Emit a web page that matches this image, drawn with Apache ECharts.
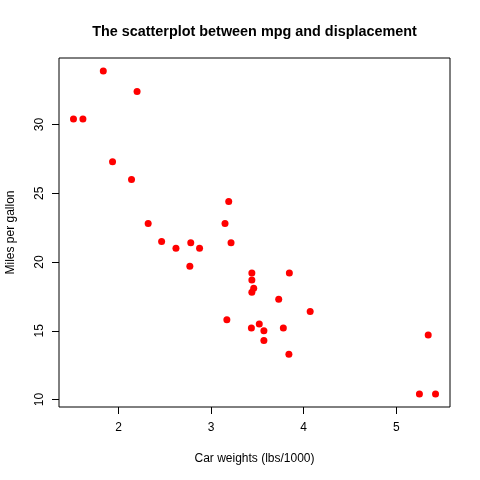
<!DOCTYPE html>
<html><head><meta charset="utf-8">
<script src="https://cdn.jsdelivr.net/npm/echarts@6/dist/echarts.min.js"></script>
<style>html,body{margin:0;padding:0;background:#fff}#c{width:480px;height:480px}</style>
</head><body><div id="c"></div>
<script>
const wt = [2.620,2.875,2.320,3.215,3.440,3.460,3.570,3.190,3.150,3.440,3.440,4.070,3.730,3.780,5.250,5.424,5.345,2.200,1.615,1.835,2.465,3.520,3.435,3.840,3.845,1.935,2.140,1.513,3.170,2.770,3.570,2.780];
const mpg = [21.0,21.0,22.8,21.4,18.7,18.1,14.3,24.4,22.8,19.2,17.8,16.4,17.3,15.2,10.4,10.4,14.7,32.4,30.4,33.9,21.5,15.5,15.2,13.3,19.2,27.3,26.0,30.4,15.8,19.7,15.0,21.4];
const xTicks = [2,3,4,5];
const yTicks = [10,15,20,25,30];
const titleText = 'The scatterplot between mpg and displacement';
const xTitle = 'Car weights (lbs/1000)';
const yTitle = 'Miles per gallon';

const pts = wt.map((w,i)=>[w,mpg[i]]);
const xr = [Math.min(...wt), Math.max(...wt)], yr = [Math.min(...mpg), Math.max(...mpg)];
const xp = (xr[1]-xr[0])*0.04, yp = (yr[1]-yr[0])*0.04;
const font = 'Helvetica, Arial, "Liberation Sans", sans-serif';
const chart = echarts.init(document.getElementById('c'));
chart.setOption({
  animation:false,
  title:{text:titleText,left:249.5,textAlign:'center',top:20,textStyle:{fontSize:14.4,fontWeight:'bold',color:'#000',fontFamily:font}},
  grid:{left:59,right:30,top:58,bottom:73,show:true,borderColor:'#000',borderWidth:1,backgroundColor:'transparent',containLabel:false,outerBoundsMode:'none'},
  xAxis:{type:'value',min:xr[0]-xp,max:xr[1]+xp,
    name:xTitle,nameLocation:'middle',nameGap:46,nameTextStyle:{fontSize:12,color:'#000',fontFamily:font},
    axisLine:{show:false},splitLine:{show:false},
    axisTick:{show:true,length:7,inside:false,customValues:xTicks,lineStyle:{color:'#000'}},
    axisLabel:{customValues:xTicks,margin:15,fontSize:12,color:'#000',fontFamily:font}},
  yAxis:{type:'value',min:yr[0]-yp,max:yr[1]+yp,
    name:yTitle,nameLocation:'middle',nameGap:42.5,nameTextStyle:{fontSize:12,color:'#000',fontFamily:font},
    axisLine:{show:false},splitLine:{show:false},
    axisTick:{show:true,length:7,inside:false,customValues:yTicks,lineStyle:{color:'#000'}},
    axisLabel:{customValues:yTicks,rotate:90,margin:13.5,fontSize:12,color:'#000',fontFamily:font}},
  series:[{type:'scatter',data:pts,symbol:'circle',symbolSize:7,itemStyle:{color:'#ff0000',opacity:1}}]
});
</script></body></html>
